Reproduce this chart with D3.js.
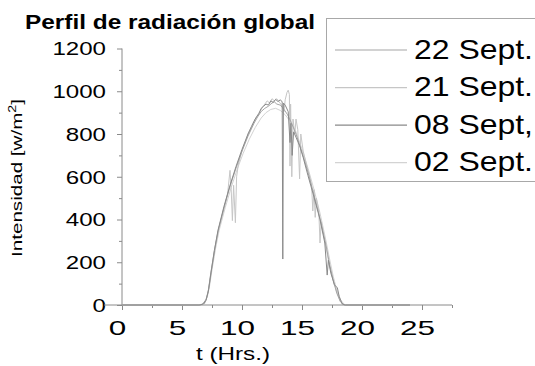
<!DOCTYPE html>
<html>
<head>
<meta charset="utf-8">
<script src="https://cdn.jsdelivr.net/npm/d3@7"></script>
<style>
  html, body { margin: 0; padding: 0; background: #fff; overflow: hidden; }
  svg { display: block; font-family: "Liberation Sans", Arial, sans-serif; }
</style>
</head>
<body>
<svg id="chart" width="535" height="366"></svg>
<script>
// Global radiation profiles: [hour, W/m²]
const seriesNames = ["22 Sept.", "21 Sept.", "08 Sept,", "02 Sept."];

const sept22 = [[0,0],[6.4,0],[6.7,4],[7.0,25],[7.2,70],[7.4,150],[7.7,255],[8.0,345],[8.5,455],[9.0,555],[9.5,640],[10.0,720],[10.5,790],[11.0,850],[11.3,880],[11.6,905],[11.9,920],[12.2,930],[12.5,945],[12.7,950],[12.9,940],[13.2,935],[13.5,915],[13.8,890],[14.1,855],[14.5,800],[15.0,715],[15.5,620],[16.0,515],[16.5,405],[17.0,280],[17.3,190],[17.6,115],[17.9,55],[18.2,15],[18.5,0],[24,0]];

const sept21 = [[0,0],[6.6,0],[6.9,8],[7.1,40],[7.3,100],[7.5,175],[7.8,280],[8.1,365],[8.5,450],[8.8,520],[9.0,630],[9.1,540],[9.2,395],[9.3,560],[9.45,385],[9.55,600],[9.7,660],[10.0,720],[10.5,800],[10.9,850],[11.2,880],[11.5,905],[11.7,925],[11.9,940],[12.1,955],[12.3,945],[12.5,965],[12.7,955],[12.9,965],[13.1,950],[13.3,935],[13.5,905],[13.6,960],[13.75,995],[13.85,1005],[13.95,985],[14.0,650],[14.05,940],[14.15,600],[14.25,870],[14.4,800],[14.5,870],[14.65,820],[14.8,590],[14.9,800],[15.1,720],[15.4,650],[15.6,610],[15.8,560],[15.9,440],[16.0,540],[16.1,410],[16.2,500],[16.4,440],[16.5,290],[16.6,390],[16.8,330],[17.0,270],[17.3,180],[17.6,120],[17.9,60],[18.2,18],[18.5,0],[24,0]];

const sept08 = [[0,0],[6.5,0],[6.8,5],[7.0,22],[7.2,65],[7.4,145],[7.7,255],[8.0,350],[8.5,462],[9.0,560],[9.5,648],[10.0,728],[10.5,800],[10.8,835],[11.1,870],[11.4,895],[11.6,920],[11.8,930],[12.0,940],[12.2,935],[12.4,955],[12.6,948],[12.8,962],[13.0,952],[13.2,960],[13.35,950],[13.4,215],[13.45,945],[13.6,935],[13.85,905],[14.0,760],[14.08,850],[14.18,700],[14.3,810],[14.5,785],[14.8,745],[15.1,690],[15.5,605],[16.0,505],[16.5,400],[16.9,290],[17.1,140],[17.2,210],[17.4,150],[17.7,95],[17.95,80],[18.1,40],[18.35,5],[18.6,0],[24,0]];

const sept02 = [[0,0],[6.5,0],[6.8,6],[7.1,35],[7.3,90],[7.5,165],[7.8,265],[8.1,350],[8.6,455],[9.1,550],[9.6,635],[10.1,710],[10.6,775],[11.1,830],[11.6,875],[12.0,900],[12.4,915],[12.8,920],[13.2,910],[13.6,890],[14.0,860],[14.5,810],[15.0,730],[15.5,640],[16.0,540],[16.5,430],[17.0,300],[17.3,215],[17.6,135],[17.9,70],[18.2,25],[18.5,4],[18.7,0],[24,0]];

const seriesColors = ["#a6a6a6", "#c6c6c6", "#8a8a8a", "#d3d3d3"];

const xTicks = [0, 5, 10, 15, 20, 25];
const xMinor = [2.5, 7.5, 12.5, 17.5, 22.5, 27.5];
const yTicks = [0, 200, 400, 600, 800, 1000, 1200];
const yMinor = [100, 300, 500, 700, 900, 1100];

const svg = d3.select("#chart");
const axisColor = "#8a8a8a";

const x = d3.scaleLinear().domain([0, 27.5]).range([122, 452]);
const y = d3.scaleLinear().domain([0, 1200]).range([305, 48.5]);

// Title
svg.append("text")
  .attr("x", 25).attr("y", 29.3)
  .attr("font-size", 20).attr("font-weight", "bold")
  .attr("textLength", 290).attr("lengthAdjust", "spacingAndGlyphs")
  .text("Perfil de radiación global");

// Y axis
const yAxis = svg.append("g").attr("transform", `translate(${x(0)},0)`);
yAxis.call(d3.axisLeft(y).tickValues(yTicks).tickSize(5).tickFormat(""));
yAxis.append("g").call(d3.axisLeft(y).tickValues(yMinor).tickSize(3).tickFormat(""));
yAxis.selectAll("path.domain").remove();
yAxis.selectAll("line").attr("stroke", axisColor);
svg.append("line")
  .attr("x1", x(0)).attr("x2", x(0)).attr("y1", y(1200)).attr("y2", y(0))
  .attr("stroke", axisColor);

svg.append("g").selectAll("text").data(yTicks).join("text")
  .attr("x", 106).attr("y", d => y(d) + 6.8)
  .attr("text-anchor", "end").attr("font-size", 19)
  .attr("textLength", d => String(d).length * 13.4)
  .attr("lengthAdjust", "spacingAndGlyphs")
  .text(d => d);

// X axis
const xAxis = svg.append("g").attr("transform", `translate(0,${y(0)})`);
xAxis.call(d3.axisBottom(x).tickValues(xTicks).tickSize(5).tickFormat(""));
xAxis.append("g").call(d3.axisBottom(x).tickValues(xMinor).tickSize(3).tickFormat(""));
xAxis.selectAll("path.domain").remove();
xAxis.selectAll("line").attr("stroke", axisColor);
svg.append("line")
  .attr("x1", x(-1.5)).attr("x2", x(27.5)).attr("y1", y(0)).attr("y2", y(0))
  .attr("stroke", axisColor);

svg.append("g").selectAll("text").data(xTicks).join("text")
  .attr("x", d => x(d) - 4.5).attr("y", 335)
  .attr("text-anchor", "middle").attr("font-size", 21)
  .attr("textLength", d => String(d).length * 17.5)
  .attr("lengthAdjust", "spacingAndGlyphs")
  .text(d => d);

// Axis titles
svg.append("text")
  .attr("x", 233).attr("y", 360)
  .attr("text-anchor", "middle").attr("font-size", 18)
  .attr("textLength", 74).attr("lengthAdjust", "spacingAndGlyphs")
  .text("t (Hrs.)");

const yTitle = svg.append("text")
  .attr("transform", "translate(21.5,178) rotate(-90)")
  .attr("text-anchor", "middle").attr("font-size", 14.5)
  .attr("textLength", 158).attr("lengthAdjust", "spacingAndGlyphs");
yTitle.append("tspan").text("Intensidad  [w/m");
yTitle.append("tspan").attr("dy", -6).attr("font-size", 10).text("2");
yTitle.append("tspan").attr("dy", 6).text("]");

// Series lines
const line = d3.line().x(d => x(d[0])).y(d => y(d[1]));
const allSeries = [sept22, sept21, sept08, sept02];
const drawOrder = [3, 1, 0, 2];
svg.append("g").selectAll("path").data(drawOrder).join("path")
  .attr("d", i => line(allSeries[i]))
  .attr("fill", "none")
  .attr("stroke", i => seriesColors[i])
  .attr("stroke-width", 1)
  .attr("stroke-linejoin", "round");

// Legend
const legend = svg.append("g");
legend.append("rect")
  .attr("x", 326.5).attr("y", 18.5).attr("width", 260).attr("height", 163)
  .attr("fill", "#fff").attr("stroke", "#a8a8a8");
const rowY = d3.scalePoint().domain(seriesNames).range([50, 162.7]);
const rows = legend.selectAll("g.row").data(seriesNames).join("g").attr("class", "row");
rows.append("line")
  .attr("x1", 335).attr("x2", 407)
  .attr("y1", d => rowY(d)).attr("y2", d => rowY(d))
  .attr("stroke", (d, i) => seriesColors[i]).attr("stroke-width", 1.2);
rows.append("text")
  .attr("x", 414).attr("y", d => rowY(d) + 8.5)
  .attr("font-size", 28)
  .attr("textLength", 119).attr("lengthAdjust", "spacingAndGlyphs")
  .text(d => d);
</script>
</body>
</html>
